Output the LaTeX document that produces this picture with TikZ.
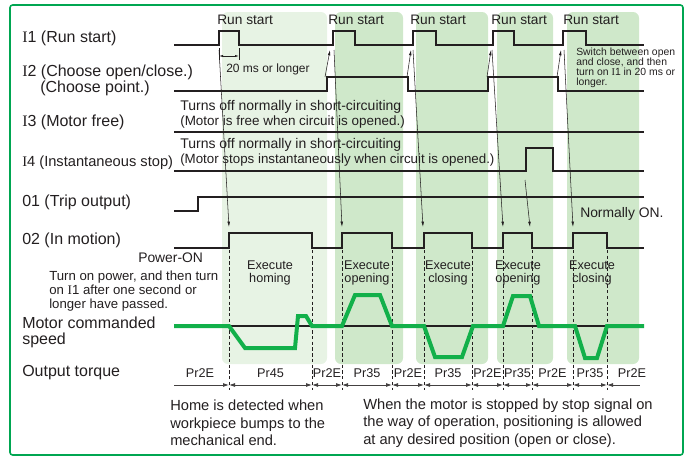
\documentclass[tikz,border=0pt]{standalone}
\usepackage{fontspec}
\setmainfont{Liberation Sans}
\newfontfamily\tdserif{Liberation Serif}
\usepackage{xcolor}
\usepackage{tikz}
\usetikzlibrary{arrows.meta}
\definecolor{tdInk}{HTML}{231F20}
\definecolor{tdFrame}{HTML}{00A651}
\definecolor{tdGreen}{HTML}{12B04A}
\definecolor{tdWash}{HTML}{CFE8CA}
\definecolor{tdWashLight}{HTML}{E7F3E4}
\newcommand{\tdI}{{\tdserif I}}
\tikzset{
  td diagram/.style={font=\fontsize{10.5}{11.25}\selectfont, text=tdInk},
  td band/.style={fill=tdWash, rounded corners=4.5pt},
  td band light/.style={td band, fill=tdWashLight},
  td frame/.style={draw=tdFrame, line width=1.2pt, rounded corners=2pt},
  td signal/.style={draw=tdInk, line width=2pt},
  td level/.style={draw=tdInk, line width=0.8pt},
  td speed/.style={draw=tdGreen, line width=3pt},
  td guide/.style={draw=tdInk, line width=0.6pt, dash pattern=on 2.5pt off 1.8pt},
  td arrow/.style={-{Latex[length=4pt,width=2pt]}, draw=tdInk, line width=0.4pt},
  td span/.style={draw=tdInk!85, line width=0.6pt},
  td label/.style={font=\fontsize{12}{11.5}\selectfont, anchor=west, inner sep=0pt, align=left},
  td note/.style={anchor=west, inner sep=0pt, align=left},
  td tag/.style={font=\fontsize{9.5}{9.2}\selectfont, inner sep=0pt, align=center}
}

\begin{document}
\begin{tikzpicture}[td diagram,x=0.75pt,y=-0.75pt]
\useasboundingbox (0,0) rectangle (693,457);
\fill[td band light] (222,12) rectangle (327,364);
\fill[td band] (335,12) rectangle (403,364);
\fill[td band] (416,12) rectangle (488,364);
\fill[td band] (497,12) rectangle (553,364);
\fill[td band] (567,12) rectangle (639,364);
\draw[td frame] (10,5) rectangle (683,455);

\node[td label] (lbl-i1) at (22,38) {\tdI1 (Run start)};
\node[td label] (lbl-i2) at (22,72) {\tdI2 (Choose open/close.)};
\node[td label] (lbl-i2b) at (40,88) {(Choose point.)};
\node[td label] (lbl-i3) at (22,122) {\tdI3 (Motor free)};
\node[td label,font=\fontsize{11}{11.5}\selectfont] (lbl-i4) at (22,163) {\tdI4 (Instantaneous stop)};
\node[td label] (lbl-o1) at (22,202) {01 (Trip output)};
\node[td label] (lbl-o2) at (22,240) {02 (In motion)};
\node[td label] (lbl-speed) at (22,332.5) {Motor commanded\\speed};
\node[td label] (lbl-torque) at (22,373) {Output torque};

\draw[td signal] (174,45) -| (219,31) -| (239,45) -| (333,31) -| (355,45) -| (413,31) -| (436,45) -| (493,31) -| (514,45) -| (563,31) -| (586,45) -- (644,45);
\draw[td signal] (174,91) -| (327,77) -| (408,91) -| (488,77) -| (558,91) -- (644,91);
\draw[td signal] (174,132) -- (644,132);
\draw[td signal] (174,171) -| (526,148) -| (553,171) -- (644,171);
\draw[td signal] (174,211) -| (198,197) -- (644,197);
\draw[td signal] (174,248) -| (229,233) -| (312,248) -| (342,233) -| (392,248) -| (424,233) -| (472,248) -| (503,233) -| (532,248) -| (573,233) -| (607,248) -- (644,248);

\foreach \x [count=\k] in {217,328,410,491,563}
  \node[td note,font=\fontsize{10.3}{11}\selectfont] (run-\k) at (\x,20) {Run start};
\draw[td level,line width=0.5pt] (219,48) -- (219,60) (239,48) -- (239,60);
\draw[td arrow,{Latex[length=3pt,width=1.6pt]}-{Latex[length=3pt,width=1.6pt]}] (219,56) -- (239,56);
\node[td note,font=\fontsize{9}{10}\selectfont] (dim-20) at (226,69) {20 ms or longer};
\node[td note,font=\fontsize{7.8}{7.6}\selectfont] (switch-note) at (576,68) {Switch between open\\and close, and then\\turn on \tdI1 in 20 ms or\\longer.};
\node[td note] (i3-note) at (180,114.5) {Turns off normally in short-circuiting\\{\fontsize{10.1}{11.25}\selectfont(Motor is free when circuit is opened.)}};
\node[td note] (i4-note) at (180,152.5) {Turns off normally in short-circuiting\\{\fontsize{10}{11.25}\selectfont(Motor stops instantaneously when circuit is opened.)}};
\node[td note,font=\fontsize{10.4}{11}\selectfont] (normally-on) at (580,214) {Normally ON.};
\node[td note,font=\fontsize{10.4}{11}\selectfont] (power-on) at (138,258) {Power-ON};
\node[td note,font=\fontsize{9.9}{10.5}\selectfont] (power-note) at (49,291) {Turn on power, and then turn\\on \tdI1 after one second or\\longer have passed.};

\foreach \s/\e [count=\k] in {219/229,334/342,413/423,492/503,564/573} {
  \coordinate (go-\k) at (\s,50);
  \coordinate (move-\k) at (\e,227);
  \draw[td arrow] (go-\k) -- (move-\k);
}
\foreach \s/\e [count=\k] in {325/330,407/411,487/491,557/561} {
  \coordinate (pick-\k) at (\s,77);
  \coordinate (start-\k) at (\e,50);
  \draw[td arrow] (pick-\k) -- (start-\k);
}
\coordinate (halt) at (525,180);
\coordinate (halted) at (530,227);
\draw[td arrow] (halt) -- (halted);

\foreach \x in {229,312,342,392,424,472,503,532,573,607}
  \draw[td guide] (\x,250) -- (\x,390);
\foreach \x/\t [count=\k] in {270/homing,367/opening,448/closing,518/opening,592/closing}
  \node[td tag] (exec-\k) at (\x,273) {Execute\\\t};

\draw[td level] (174,326) -- (644,326);
\draw[td speed] (174,326) -- (229,326) -- (245,348) -- (295,348) -- (298,316) -- (306,316) -- (312,326) -- (342,326) -- (355,295) -- (380,295) -- (392,326) -- (424,326) -- (435,357) -- (462,357) -- (473,326) -- (503,326) -- (513,296) -- (530,296) -- (539,326) -- (575,326) -- (585,358) -- (597,358) -- (607,326) -- (644,326);

\draw[td span,-{Latex[length=4.5pt,width=3pt]}] (174,385) -- (229,385);
\node[td tag] (tq-0) at (200,373) {Pr2E};
\foreach \a/\b/\t in {229/312/Pr45,312/342/Pr2E,342/392/Pr35,392/424/Pr2E,424/472/Pr35,472/503/Pr2E,503/532/Pr35,532/573/Pr2E,573/607/Pr35} {
  \draw[td span,{Latex[length=4.5pt,width=3pt]}-{Latex[length=4.5pt,width=3pt]}] (\a,385) -- (\b,385);
  \node[td tag] (tq-\a) at ({(\a+\b)/2},373) {\t};
}
\draw[td span,{Latex[length=4.5pt,width=3pt]}-] (607,385) -- (640,385);
\node[td tag] (tq-end) at (632,373) {Pr2E};

\node[td note,font=\fontsize{11}{13}\selectfont] (home-note) at (170,423) {Home is detected when\\workpiece bumps to the\\mechanical end.};
\node[td note,font=\fontsize{11}{13}\selectfont] (stop-note) at (363,423) {When the motor is stopped by stop signal on\\the way of operation, positioning is allowed\\at any desired position (open or close).};
\end{tikzpicture}
\end{document}
